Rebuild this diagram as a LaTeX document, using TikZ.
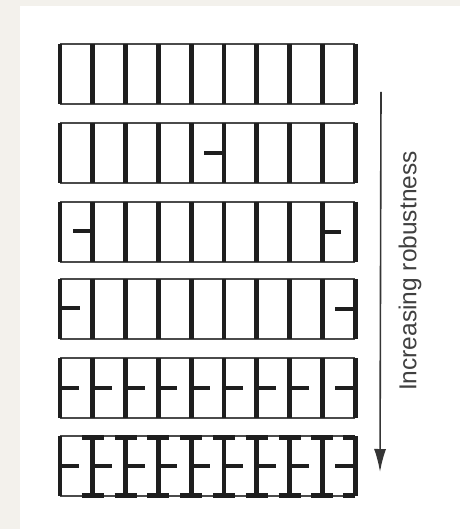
\documentclass[tikz,border=0pt]{standalone}
\usepackage{fontspec}
\setmainfont{Liberation Sans}
\usetikzlibrary{arrows.meta}
\definecolor{bgbeige}{HTML}{F3F1EC}
\definecolor{ink}{HTML}{1E1E1E}
\tikzset{
  thinline/.style={draw=ink!80, line width=1.6pt},
  wall/.style={draw=ink, line width=4.8pt},
  tick/.style={draw=ink, line width=4.6pt},
  capbar/.style={draw=ink, line width=4.6pt},
  arrowline/.style={draw=ink!90, line width=1.6pt, -{Latex[length=23pt,width=12pt]}},
  label/.style={font=\fontsize{24.5}{28}\selectfont, text=ink!85, rotate=90, inner sep=0pt}
}
\begin{document}
\begin{tikzpicture}[x=1pt,y=-1pt]
\fill[bgbeige] (0,0) rectangle (460,529);
\fill[white] (20,6) rectangle (460,529);
\useasboundingbox (0,0) rectangle (460,529);
\def\cw{32.8}
% row tops
\foreach \r/\yt in {1/44,2/123,3/202,4/279,5/358,6/436}{
  \pgfmathsetmacro{\yb}{\yt+60}
  \draw[thinline] (60,\yt) -- (355.2,\yt);
  \draw[thinline] (60,\yb) -- (355.2,\yb);
  \foreach \i in {0,...,9}{
    \draw[wall] ({60+\i*\cw},\yt) -- ({60+\i*\cw},\yb);
  }
}
% row 2
\draw[tick] ({60+5*\cw},153) -- ++(-20,0);
% row 3
\draw[tick] ({60+1*\cw},231) -- ++(-20,0);
\draw[tick] ({60+8*\cw},232) -- ++(19,0);
% row 4
\draw[tick] (60,308) -- ++(20,0);
\draw[tick] ({60+9*\cw},309) -- ++(-20,0);
% rows 5 and 6
\foreach \ym in {388,466}{
  \foreach \i in {0,...,7}{
    \draw[tick] ({60+\i*\cw},\ym) -- ++(19,0);
  }
  \draw[tick] ({60+9*\cw},\ym) -- ++(-20,0);
}
% row 6 caps
\foreach \yc in {437.5,495.5}{
  \foreach \i in {1,...,8}{
    \draw[capbar] ({60+\i*\cw-11},\yc) -- ++(22,0);
  }
  \draw[capbar] ({60+9*\cw},\yc) -- ++(-12,0);
}
% arrow
\coordinate (atop) at (381,92);
\coordinate (abot) at (380,472);
\draw[arrowline] (atop) -- (abot);
\node[label] (lbl) at (410,271) {Increasing robustness};
\end{tikzpicture}
\end{document}
